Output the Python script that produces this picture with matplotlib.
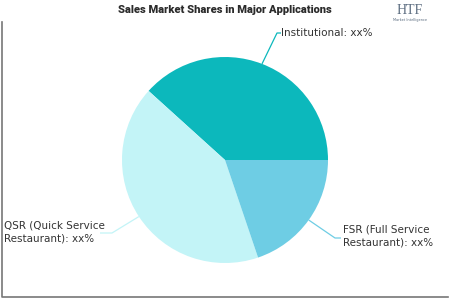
import matplotlib
matplotlib.use("Agg")
import matplotlib.pyplot as plt
import numpy as np

# data
segments = ["Institutional", "QSR (Quick Service\nRestaurant)", "FSR (Full Service\nRestaurant)"]
shares = [38.3, 41.9, 19.8]
share_text = ["xx%", "xx%", "xx%"]
colors = ["#0cb8bc", "#c3f4f7", "#6ecde4"]
title = "Sales Market Shares in Major Applications"

fig = plt.figure(figsize=(4.5, 3), dpi=100)
ax = fig.add_axes([0, 0, 1, 1])

cx, cy, r = 225, 140, 103
wedges, _ = ax.pie(shares, colors=colors, startangle=0, counterclock=True,
                   center=(cx, cy), radius=r, frame=True,
                   wedgeprops=dict(linewidth=0))
ax.set_xlim(0, 450)
ax.set_ylim(0, 300)
ax.set_aspect("equal")
ax.axis("off")

# label layout: elbow point, end of leader, text anchor
layout = [
    ((277, 267), (281, 267), (281, 267)),
    ((112, 67), (100, 67), (4, 68)),
    ((335, 62), (341, 62), (343, 64)),
]

for w, name, val, col, (elbow, end, tpos) in zip(wedges, segments, share_text, colors, layout):
    mid = np.deg2rad((w.theta1 + w.theta2) / 2)
    sx, sy = cx + r * np.cos(mid), cy + r * np.sin(mid)
    ax.plot([sx, elbow[0], end[0]], [sy, elbow[1], end[1]], color=col, lw=0.9,
            solid_capstyle="butt")
    ax.text(tpos[0], tpos[1], f"{name}: {val}", ha="left", va="center",
            fontsize=7.5, color="#333333", family="DejaVu Sans", linespacing=1.3)

ax.text(225, 290, title, ha="center", va="center", fontsize=8,
        fontweight="black", color="#2b2b2b", family=["Roboto", "DejaVu Sans"])

# logo
ax.text(410, 290, "HTF", ha="center", va="center", fontsize=10,
        color="#5a6b7f", family="Liberation Serif")
ax.text(410, 280, "Market Intelligence", ha="center", va="center", fontsize=2.5,
        color="#5a6b7f")

# frame
ax.plot([1.5, 1.5, 448], [278, 3, 3], color="#777777", lw=1.2)

fig.savefig("out.png", dpi=100)
